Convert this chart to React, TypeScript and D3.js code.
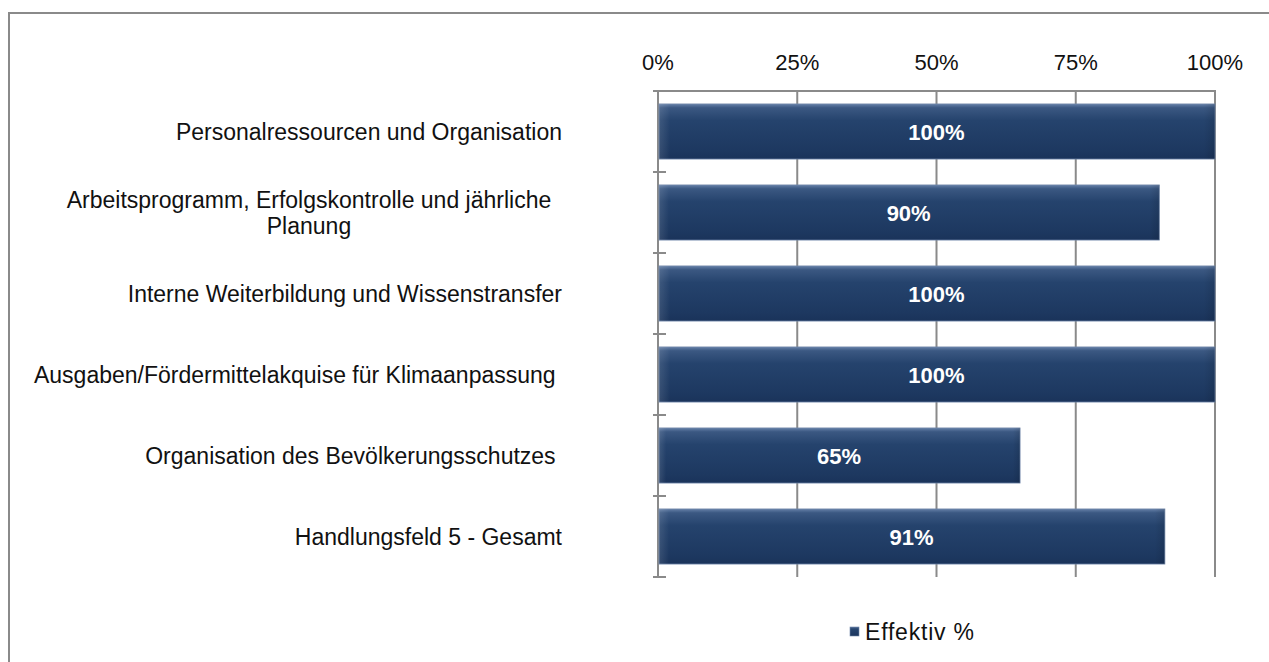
import React from "react";
import * as d3 from "d3";

const categories: string[][] = [
  ["Personalressourcen und Organisation"],
  ["Arbeitsprogramm, Erfolgskontrolle und jährliche", "Planung"],
  ["Interne Weiterbildung und Wissenstransfer"],
  ["Ausgaben/Fördermittelakquise für Klimaanpassung "],
  ["Organisation des Bevölkerungsschutzes "],
  ["Handlungsfeld 5 - Gesamt"],
];
const values: number[] = [100, 90, 100, 100, 65, 91];
const ticks: number[] = [0, 25, 50, 75, 100];
const seriesName = "Effektiv %";

const W = 1269;
const H = 662;
const left = 658;
const right = 1215;
const top = 91;
const bottom = 577;
const font = "'Liberation Sans', Arial, sans-serif";

export default function App() {
  const x = d3.scaleLinear().domain([0, 100]).range([left, right]);
  const y = d3
    .scaleBand<number>()
    .domain(d3.range(values.length))
    .range([top, bottom])
    .paddingInner(0.32)
    .paddingOuter(0.16);
  const step = y.step();
  const boundaries = d3.range(values.length + 1).map((i) => top + i * step);

  return (
    <svg
      width={W}
      height={H}
      style={{ position: "absolute", left: 0, top: 0, display: "block" }}
    >
      <defs>
        <linearGradient id="barGrad" x1="0" y1="0" x2="0" y2="1">
          <stop offset="0" stopColor="#6580a8" />
          <stop offset="0.07" stopColor="#3b5882" />
          <stop offset="0.3" stopColor="#25436d" />
          <stop offset="0.85" stopColor="#1d3860" />
          <stop offset="1" stopColor="#1a335a" />
        </linearGradient>
        <linearGradient id="barSide" x1="0" y1="0" x2="1" y2="0">
          <stop offset="0" stopColor="#ffffff" stopOpacity="0.12" />
          <stop offset="0.02" stopColor="#ffffff" stopOpacity="0" />
          <stop offset="0.98" stopColor="#000000" stopOpacity="0" />
          <stop offset="1" stopColor="#000000" stopOpacity="0.12" />
        </linearGradient>
      </defs>
      <rect x={0} y={0} width={W} height={H} fill="#ffffff" />
      {/* outer border */}
      <rect
        x={9}
        y={13}
        width={W + 20}
        height={H + 20}
        fill="none"
        stroke="#8a8a8a"
        strokeWidth={2}
      />
      {/* gridlines */}
      {ticks.map((t) => (
        <line
          key={"g" + t}
          x1={x(t)}
          x2={x(t)}
          y1={top}
          y2={bottom}
          stroke="#8a8a8a"
          strokeWidth={2}
        />
      ))}
      {/* top axis line */}
      <line x1={653} x2={right + 1} y1={top} y2={top} stroke="#8a8a8a" strokeWidth={2} />
      {/* left axis ticks */}
      {boundaries.map((b, i) => (
        <line
          key={"t" + i}
          x1={653}
          x2={666}
          y1={b}
          y2={b}
          stroke="#8a8a8a"
          strokeWidth={2}
        />
      ))}
      {/* tick labels */}
      {ticks.map((t) => (
        <text
          key={"l" + t}
          x={x(t)}
          y={70}
          textAnchor="middle"
          fontFamily={font}
          fontSize={22}
          fill="#111"
        >
          {t}%
        </text>
      ))}
      {/* bars */}
      {values.map((v, i) => {
        const by = y(i)!;
        const bw = x(v) - x(0);
        return (
          <g key={"b" + i}>
            <rect
              x={x(0) + 1}
              y={by}
              width={bw - 1}
              height={y.bandwidth()}
              fill="url(#barGrad)"
              stroke="#6f86a8"
              strokeWidth={0.8}
            />
            <rect
              x={x(0) + 1}
              y={by}
              width={bw - 1}
              height={y.bandwidth()}
              fill="url(#barSide)"
            />
            <text
              x={x(0) + bw / 2}
              y={by + y.bandwidth() / 2 + 8}
              textAnchor="middle"
              fontFamily={font}
              fontWeight="bold"
              fontSize={22}
              fill="#ffffff"
            >
              {v}%
            </text>
          </g>
        );
      })}
      {/* category labels */}
      {categories.map((lines, i) => {
        const cy = y(i)! + y.bandwidth() / 2;
        const lh = 26;
        const y0 = cy - ((lines.length - 1) * lh) / 2 + 8;
        const multi = lines.length > 1;
        return (
          <text
            key={"c" + i}
            textAnchor={multi ? "middle" : "end"}
            fontFamily={font}
            fontSize={23}
            fill="#111"
            style={{ whiteSpace: "pre" }}
          >
            {lines.map((ln, j) => (
              <tspan key={j} x={multi ? 309 : 562} y={y0 + j * lh}>
                {ln}
              </tspan>
            ))}
          </text>
        );
      })}
      {/* legend */}
      <rect x={850} y={627} width={9} height={9} fill="url(#barGrad)" stroke="#6f86a8" strokeWidth={0.6} />
      <text x={865} y={640} fontFamily={font} fontSize={23} letterSpacing={0.8} fill="#111">
        {seriesName}
      </text>
    </svg>
  );
}
